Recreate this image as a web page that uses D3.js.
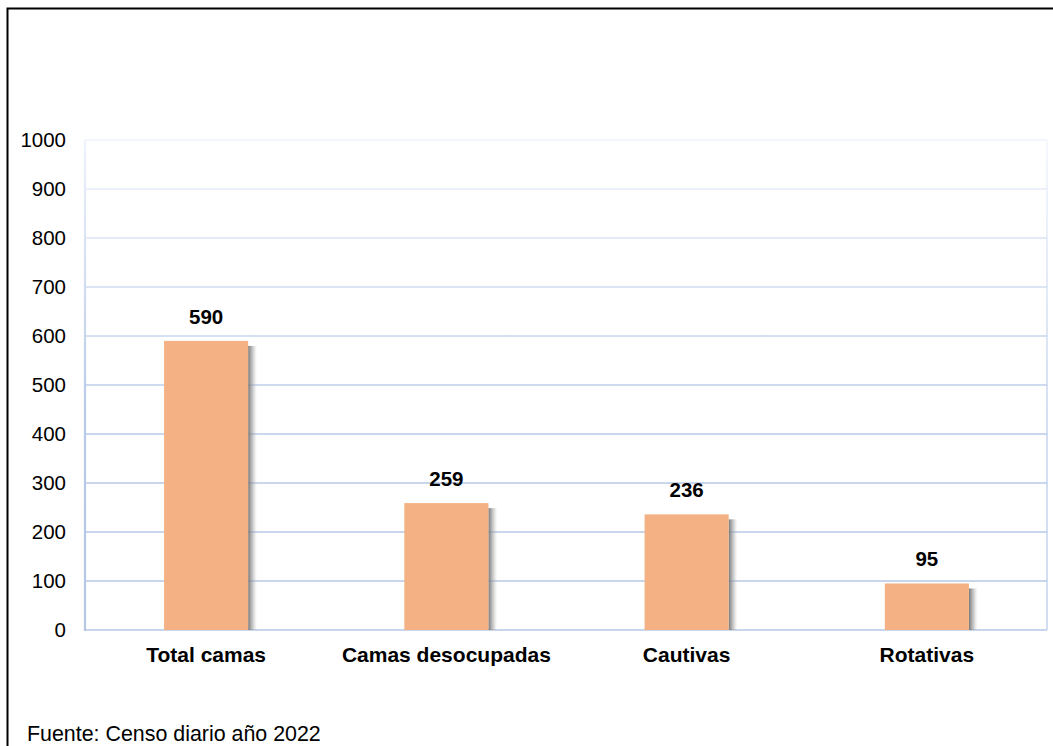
<!DOCTYPE html>
<html>
<head>
<meta charset="utf-8">
<script src="https://cdn.jsdelivr.net/npm/d3@7"></script>
<style>
  html, body { margin: 0; padding: 0; background: #fff; }
  svg { display: block; font-family: "Liberation Sans", Arial, sans-serif; }
</style>
</head>
<body>
<svg id="chart" width="1053" height="746"></svg>
<script>
// Bed census, 2022
const categories = ["Total camas", "Camas desocupadas", "Cautivas", "Rotativas"];
const values = [590, 259, 236, 95];
const yTicks = [0, 100, 200, 300, 400, 500, 600, 700, 800, 900, 1000];
const sourceNote = "Fuente: Censo diario año 2022";

const svg = d3.select("#chart");
const W = 1053, H = 746;
const plot = { left: 86, right: 1047, top: 140, bottom: 630 };

// outer frame (left and top edges visible)
svg.append("path")
  .attr("d", `M7.5,${H} L7.5,8.5 L${W},8.5`)
  .attr("fill", "none").attr("stroke", "#000").attr("stroke-width", 2);

const x = d3.scaleBand().domain(categories)
  .range([plot.left, plot.right]).paddingInner(0.65).paddingOuter(0.325);
const y = d3.scaleLinear().domain([0, 1000]).range([plot.bottom, plot.top]);

const defs = svg.append("defs");
// grid fades toward the top
const gg = defs.append("linearGradient").attr("id", "gridFade")
  .attr("gradientUnits", "userSpaceOnUse")
  .attr("x1", 0).attr("y1", plot.top).attr("x2", 0).attr("y2", plot.bottom);
gg.append("stop").attr("offset", 0).attr("stop-color", "#eef2fb");
gg.append("stop").attr("offset", 0.55).attr("stop-color", "#b8cae9");
gg.append("stop").attr("offset", 1).attr("stop-color", "#b4c7e7");

// soft shadow on the right side of each bar
const sh = defs.append("linearGradient").attr("id", "barShadow")
  .attr("x1", 0).attr("y1", 0).attr("x2", 1).attr("y2", 0);
sh.append("stop").attr("offset", 0).attr("stop-color", "#6f6f6f").attr("stop-opacity", 0.95);
sh.append("stop").attr("offset", 0.5).attr("stop-color", "#9a9a9a").attr("stop-opacity", 0.55);
sh.append("stop").attr("offset", 1).attr("stop-color", "#c8c8c8").attr("stop-opacity", 0);

// gridlines
svg.append("g").selectAll("line").data(yTicks).join("line")
  .attr("x1", plot.left).attr("x2", plot.right)
  .attr("y1", d => y(d)).attr("y2", d => y(d))
  .attr("stroke", "url(#gridFade)").attr("stroke-width", 1.5);

// right border of plot area
svg.append("line")
  .attr("x1", plot.right).attr("x2", plot.right)
  .attr("y1", plot.top).attr("y2", plot.bottom)
  .attr("stroke", "url(#gridFade)").attr("stroke-width", 1.2);

// left axis line
svg.append("line")
  .attr("x1", plot.left - 1).attr("x2", plot.left - 1)
  .attr("y1", plot.top).attr("y2", plot.bottom + 1)
  .attr("stroke", "url(#gridFade)").attr("stroke-width", 2.2);

// y tick labels
const yAxis = d3.axisLeft(y).tickValues(yTicks).tickSize(0).tickPadding(20).tickFormat(d3.format("d"));
const ya = svg.append("g").attr("transform", `translate(${plot.left},0)`).call(yAxis);
ya.select(".domain").remove();
ya.selectAll("text").attr("font-size", 20.5).attr("fill", "#000")
  .attr("font-family", "Liberation Sans, Arial, sans-serif");

// bars with shadow
const bars = svg.append("g");
bars.selectAll("rect.shadow").data(values).join("rect").attr("class", "shadow")
  .attr("x", (d, i) => x(categories[i]) + x.bandwidth())
  .attr("y", d => y(d) + 5)
  .attr("width", 9)
  .attr("height", d => y(0) - y(d) - 5)
  .attr("fill", "url(#barShadow)");
bars.selectAll("rect.bar").data(values).join("rect").attr("class", "bar")
  .attr("x", (d, i) => x(categories[i]))
  .attr("y", d => y(d))
  .attr("width", x.bandwidth())
  .attr("height", d => y(0) - y(d))
  .attr("fill", "#f4b183");

// value labels
svg.append("g").selectAll("text").data(values).join("text")
  .attr("x", (d, i) => x(categories[i]) + x.bandwidth() / 2)
  .attr("y", d => y(d) - 17)
  .attr("text-anchor", "middle")
  .attr("font-size", 20.5).attr("font-weight", "bold").attr("fill", "#000")
  .text(d => d);

// category labels
const xAxis = d3.axisBottom(x).tickSize(0).tickPadding(0);
const xa = svg.append("g").attr("transform", `translate(0,${plot.bottom})`).call(xAxis);
xa.select(".domain").remove();
xa.selectAll("text").attr("font-size", 21).attr("font-weight", "bold").attr("fill", "#000")
  .attr("font-family", "Liberation Sans, Arial, sans-serif")
  .attr("dy", null).attr("y", 32);

// source note
svg.append("text").attr("x", 27).attr("y", 741)
  .attr("font-size", 21.4).attr("fill", "#000")
  .text(sourceNote);
</script>
</body>
</html>
